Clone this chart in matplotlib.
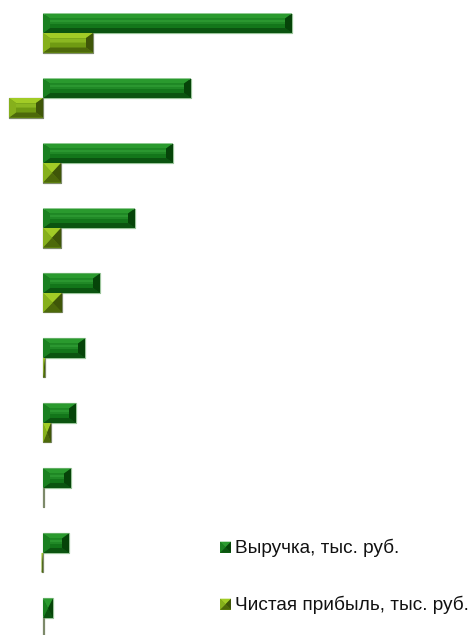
import matplotlib
matplotlib.use("Agg")
import matplotlib.pyplot as plt
from matplotlib.patches import Polygon, Rectangle

# Revenue and net profit per company, thousand rubles
revenue = [49800, 29600, 26000, 18400, 11400, 8400, 6600, 5600, 5200, 2000]
net_profit = [10000, -6800, 3600, 3600, 3800, 400, 1600, 100, -300, 100]
series_names = ["Выручка, тыс. руб.", "Чистая прибыль, тыс. руб."]

W, H, DPI = 474, 635, 100
XLIM = (-8600, 86200)
YLIM = (9.262, -0.508)
BAR_H = 0.3

REV_COLORS = dict(face="#13761a", top="#2a9a2e", bottom="#0b5410",
                  left="#1a8020", right="#064409", hi="#3aab3e", edge="#9cc59c")
PRO_COLORS = dict(face="#6f9a12", top="#a2cc26", bottom="#4d690a",
                  left="#86b01c", right="#3f5608", hi="#9cc82a", edge="#7d8a6a")

fig = plt.figure(figsize=(W / DPI, H / DPI), dpi=DPI)
ax = fig.add_axes([0, 0, 1, 1])
ax.set_xlim(*XLIM)
ax.set_ylim(*YLIM)
ax.axis("off")

px_x = W / (XLIM[1] - XLIM[0])
px_y = H / (YLIM[0] - YLIM[1])


def bevel(ax, left, top, w, h, c, bev_x=7.0, bev_y=5.0, transform=None):
    """Draw a beveled rectangle (y grows downward)."""
    kw = {} if transform is None else {"transform": transform}
    sx = px_x if transform is None else 1.0
    sy = px_y if transform is None else 1.0
    if w < 0:
        left, w = left + w, -w
    wpx, hpx = w * sx, h * sy
    R, B = left + w, top + h
    ax.add_patch(Rectangle((left, top), w, h, facecolor=c["face"],
                           edgecolor=c["edge"], linewidth=0.8, zorder=2, **kw))
    bxp = min(bev_x, wpx / 2)
    byp = min(bev_y, hpx / 2)
    if wpx < 2 * bev_x + 6:
        # short blocks become small pyramids
        bxp, byp = wpx / 2, hpx / 2
    if bxp < 0.6:
        return
    bx, by = bxp / sx, byp / sy
    L, T = left, top
    polys = [
        ([(L, T), (R, T), (R - bx, T + by), (L + bx, T + by)], c["top"]),
        ([(L, B), (R, B), (R - bx, B - by), (L + bx, B - by)], c["bottom"]),
        ([(L, T), (L + bx, T + by), (L + bx, B - by), (L, B)], c["left"]),
        ([(R, T), (R - bx, T + by), (R - bx, B - by), (R, B)], c["right"]),
    ]
    for pts, col in polys:
        ax.add_patch(Polygon(pts, closed=True, facecolor=col, edgecolor="none",
                             zorder=3, **kw))
    inner_h = h - 2 * by
    inner_w = w - 2 * bx
    if inner_h > 1e-9 and inner_w > 1e-9:
        # soft glossy band across the face
        for frac0, frac1, a in ((0.05, 0.55, 0.35), (0.15, 0.4, 0.45)):
            ax.add_patch(Rectangle((L + bx, T + by + frac0 * inner_h), inner_w,
                                   (frac1 - frac0) * inner_h, facecolor=c["hi"],
                                   edgecolor="none", alpha=a, zorder=3, **kw))


idx = list(range(len(revenue)))
rev_bars = ax.barh([i - BAR_H / 2 for i in idx], revenue, height=BAR_H,
                   color=REV_COLORS["face"], edgecolor=REV_COLORS["edge"],
                   linewidth=0.8, zorder=1)
pro_bars = ax.barh([i + BAR_H / 2 for i in idx], net_profit, height=BAR_H,
                   color=PRO_COLORS["face"], edgecolor=PRO_COLORS["edge"],
                   linewidth=0.8, zorder=1)

for bars, cols in ((rev_bars, REV_COLORS), (pro_bars, PRO_COLORS)):
    for p in bars.patches:
        bevel(ax, p.get_x(), p.get_y(), p.get_width(), p.get_height(), cols)

# Legend drawn in figure pixel space
lax = fig.add_axes([0, 0, 1, 1])
lax.set_xlim(0, W)
lax.set_ylim(H, 0)
lax.axis("off")
leg_base = [552.7, 609.7]
for name, cols, yb in zip(series_names, (REV_COLORS, PRO_COLORS), leg_base):
    c = dict(cols)
    c["edge"] = "none"
    bevel(lax, 220, yb - 11, 11, 11, c, bev_x=3.0, bev_y=3.0,
          transform=lax.transData)
    lax.text(235.5, yb, name, va="baseline", ha="left", fontsize=13.7,
             family=["Liberation Sans", "DejaVu Sans"], color="#111111")

fig.savefig("out.png", dpi=DPI)
